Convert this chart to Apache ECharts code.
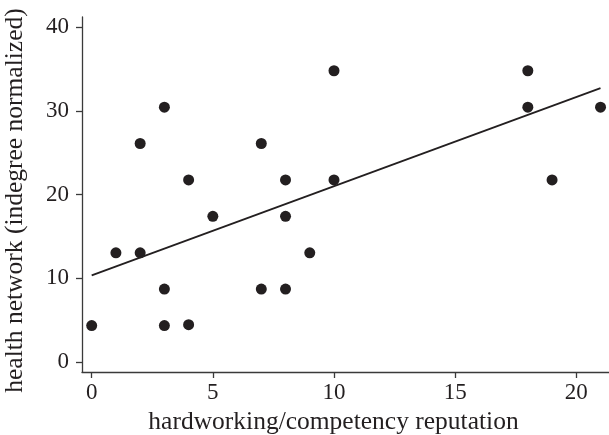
<!DOCTYPE html>
<html>
<head>
<meta charset="utf-8">
<script src="https://cdn.jsdelivr.net/npm/echarts@6/dist/echarts.min.js"></script>
<style>
  html, body { margin: 0; padding: 0; background: #fff; }
  #chart { width: 609px; height: 435px; }
</style>
</head>
<body>
<div id="chart"></div>
<script>
// hardworking/competency reputation (x) vs health network indegree (y)
const repX = [0, 1, 2, 2, 3, 3, 3, 4, 4, 5, 7, 7, 8, 8, 8, 9, 10, 10, 18, 18, 19, 21];
const netY = [4.35, 13.04, 13.04, 26.09, 30.43, 8.7, 4.35, 21.74, 4.45, 17.39, 26.09, 8.7,
  21.74, 17.39, 8.7, 13.04, 34.78, 21.74, 34.78, 30.43, 21.74, 30.43];
// fitted line end points
const fitX = [0, 21];
const fitY = [10.35, 32.7];
const xTicks = [0, 5, 10, 15, 20];
const yTicks = [0, 10, 20, 30, 40];

const ink = '#231f20';
const font = 'Liberation Serif';

const points = repX.map((x, i) => [x, netY[i]]);
const fitLine = fitX.map((x, i) => [x, fitY[i]]);

const chart = echarts.init(document.getElementById('chart'), null, { renderer: 'canvas' });
chart.setOption({
  animation: false,
  backgroundColor: '#fff',
  grid: { left: 82, top: 17, right: 0, bottom: 63, containLabel: false, outerBoundsMode: 'none' },
  xAxis: {
    type: 'value',
    min: -0.4,
    max: 21.35,
    name: 'hardworking/competency reputation',
    nameLocation: 'middle',
    nameGap: 35,
    // nudge left a bit, the original title is not centred on the plot
    nameTextStyle: { fontFamily: font, fontSize: 25.5, color: ink, padding: [0, 24, 0, 0] },
    axisLine: { onZero: false, lineStyle: { color: '#3a3a3a', width: 1.3 } },
    axisTick: { show: true, length: 6, customValues: xTicks, lineStyle: { color: '#3a3a3a', width: 1.3 } },
    axisLabel: { customValues: xTicks, fontFamily: font, fontSize: 23, color: ink, margin: 9 },
    splitLine: { show: false }
  },
  yAxis: {
    type: 'value',
    min: -1.2,
    max: 41.2,
    name: 'health network (indegree normalized)',
    nameLocation: 'middle',
    nameGap: 54,
    nameTextStyle: { fontFamily: font, fontSize: 25.5, color: ink, padding: [0, 12, 0, 0] },
    axisLine: { show: true, onZero: false, lineStyle: { color: '#3a3a3a', width: 1.3 } },
    axisTick: { show: true, length: 6, customValues: yTicks, lineStyle: { color: '#3a3a3a', width: 1.3 } },
    axisLabel: { customValues: yTicks, fontFamily: font, fontSize: 23, color: ink, margin: 13 },
    splitLine: { show: false }
  },
  series: [
    {
      type: 'scatter',
      data: points,
      symbol: 'circle',
      symbolSize: 11,
      itemStyle: { color: ink, opacity: 1 }
    },
    {
      type: 'line',
      data: fitLine,
      symbol: 'none',
      lineStyle: { color: ink, width: 1.8 }
    }
  ]
});
</script>
</body>
</html>
